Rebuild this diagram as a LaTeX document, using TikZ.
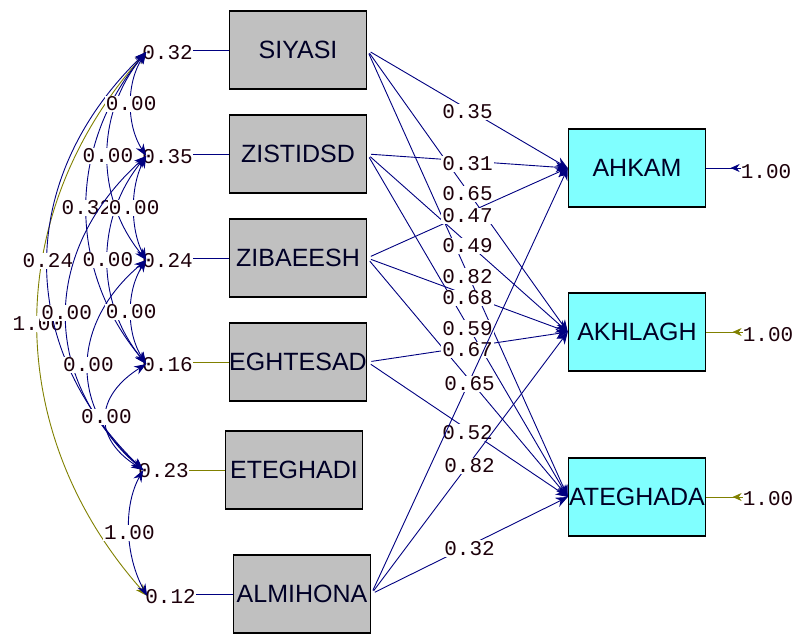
\documentclass[tikz,border=0pt]{standalone}
\usepackage{fontspec}
\setmainfont{Liberation Sans}
\newfontfamily\monofont{Liberation Mono}
\usetikzlibrary{arrows.meta,calc}
\definecolor{navy}{RGB}{0,0,128}
\definecolor{olivec}{RGB}{128,128,0}
\definecolor{boxgray}{RGB}{192,192,192}
\definecolor{boxcyan}{RGB}{128,255,255}
\newcommand\covarc[6]{% color, from, to, a, b, label
  \draw[#1,line width=0.9pt,dtip] (#2) .. controls ($(#2)+(-#4,#5)$) and ($(#3)+(-#4,-#5)$) .. node[pos=.5,numw]{#6} (#3);}
\begin{document}
\begin{tikzpicture}[x=1pt,y=-1pt,
 obs/.style={draw=black,line width=1.4pt,minimum width=137pt,minimum height=78pt,inner sep=0pt,font=\fontsize{25}{25}\selectfont,text=black!85!blue},
 xbox/.style={obs,fill=boxgray},
 ybox/.style={obs,fill=boxcyan},
 num/.style={font=\monofont\fontsize{21}{21}\selectfont,inner sep=0pt,text=black!85!purple},
 numw/.style={num,fill=white,inner sep=1pt},
 link/.style={navy,line width=0.9pt},
 tip/.style={-{Stealth[length=12pt,width=10pt]}},
 dtip/.style={{Stealth[length=12pt,width=9pt]}-{Stealth[length=12pt,width=9pt]}},
]
\useasboundingbox (0,0) rectangle (793,634);

% observed boxes
\node[xbox] (siy) at (298,50) {SIYASI};
\node[xbox] (zis) at (298,154) {ZISTIDSD};
\node[xbox] (zib) at (298,258) {ZIBAEESH};
\node[xbox] (egh) at (298,362) {EGHTESAD};
\node[xbox] (ete) at (294,470) {ETEGHADI};
\node[xbox] (alm) at (302,594) {ALMIHONA};
\node[ybox] (ahk) at (637,168) {AHKAM};
\node[ybox] (akh) at (637,332) {AKHLAGH};
\node[ybox] (ate) at (637,497) {ATEGHADA};

% left variance labels
\node[num,anchor=east] (e1) at (193,53) {0.32};
\node[num,anchor=east] (e2) at (193,157) {0.35};
\node[num,anchor=east] (e3) at (193,261) {0.24};
\node[num,anchor=east] (e4) at (193,365) {0.16};
\node[num,anchor=east] (e5) at (189,471) {0.23};
\node[num,anchor=east] (e6) at (196,597) {0.12};
\draw[link] (e1.east |- siy.west) -- (siy.west);
\draw[link] (e2.east |- zis.west) -- (zis.west);
\draw[link] (e3.east |- zib.west) -- (zib.west);
\draw[olivec,line width=0.9pt] (e4.east |- egh.west) -- (egh.west);
\draw[olivec,line width=0.9pt] (e5.east |- ete.west) -- (ete.west);
\draw[link] (e6.east |- alm.west) -- (alm.west);

\coordinate (p1) at ($(e1.west)+(4,-1)$);
\coordinate (p2) at ($(e2.west)+(4,-1)$);
\coordinate (p3) at ($(e3.west)+(4,-1)$);
\coordinate (p4) at ($(e4.west)+(4,-1)$);
\coordinate (p5) at ($(e5.west)+(5,-1)$);
\coordinate (p6) at ($(e6.west)+(2,-1)$);

% covariance arcs
\covarc{olivec}{p1}{p6}{145}{163}{1.00}
\covarc{navy}{p1}{p5}{129}{125}{0.24}
\covarc{navy}{p1}{p4}{79}{94}{0.32}
\covarc{navy}{p2}{p5}{104}{94}{0.00}
\covarc{navy}{p1}{p3}{51}{62}{0.00}
\covarc{navy}{p2}{p4}{51}{62}{0.00}
\covarc{navy}{p3}{p5}{75}{63}{0.00}
\covarc{navy}{p1}{p2}{20}{31}{0.00}
\covarc{navy}{p2}{p3}{16}{31}{0.00}
\covarc{navy}{p3}{p4}{20}{31}{0.00}
\covarc{navy}{p4}{p5}{51}{32}{0.00}
\covarc{navy}{p5}{p6}{21}{38}{1.00}

% structural paths
\begin{scope}[every node/.style={numw,pos=.5,yshift=-3pt}]
\draw[link,tip,shorten <=4pt] (siy.east) -- node{0.35} (ahk.west);
\draw[link,tip,shorten <=4pt] (siy.east) -- node{0.65} (akh.west);
\draw[link,tip,shorten <=4pt] (siy.east) -- node{0.82} (ate.west);
\draw[link,tip,shorten <=4pt] (zis.east) -- node{0.31} (ahk.west);
\draw[link,tip,shorten <=4pt] (zis.east) -- node{0.49} (akh.west);
\draw[link,tip,shorten <=4pt] (zis.east) -- node{0.59} (ate.west);
\draw[link,tip,shorten <=4pt] (zib.east) -- node{0.47} (ahk.west);
\draw[link,tip,shorten <=4pt] (zib.east) -- node{0.68} (akh.west);
\draw[link,tip,shorten <=4pt] (zib.east) -- (ate.west);
\draw[link,tip,shorten <=4pt] (egh.east) -- node{0.67} (akh.west);
\draw[link,tip,shorten <=4pt] (egh.east) -- node{0.52} (ate.west);
\draw[link,tip,shorten <=4pt] (alm.east) -- node{0.65} (ahk.west);
\draw[link,tip,shorten <=4pt] (alm.east) -- node{0.82} (akh.west);
\draw[link,tip,shorten <=4pt] (alm.east) -- node{0.32} (ate.west);
\end{scope}

% right error terms
\node[num] (r1) at (766,172) {1.00};
\node[num] (r2) at (768,335) {1.00};
\node[num] (r3) at (768,499) {1.00};
\draw[link] (r1.west |- ahk.east) -- (ahk.east);
\draw[link,-{Stealth[length=9pt,width=8pt]}] (r1.west |- ahk.east) -- ++(-10,0);
\draw[olivec,line width=0.9pt] (r2.west |- akh.east) -- (akh.east);
\draw[olivec,line width=0.9pt,-{Stealth[length=9pt,width=8pt]}] (r2.west |- akh.east) -- ++(-10,0);
\draw[olivec,line width=0.9pt] (r3.west |- ate.east) -- (ate.east);
\draw[olivec,line width=0.9pt,-{Stealth[length=9pt,width=8pt]}] (r3.west |- ate.east) -- ++(-10,0);
\end{tikzpicture}
\end{document}
